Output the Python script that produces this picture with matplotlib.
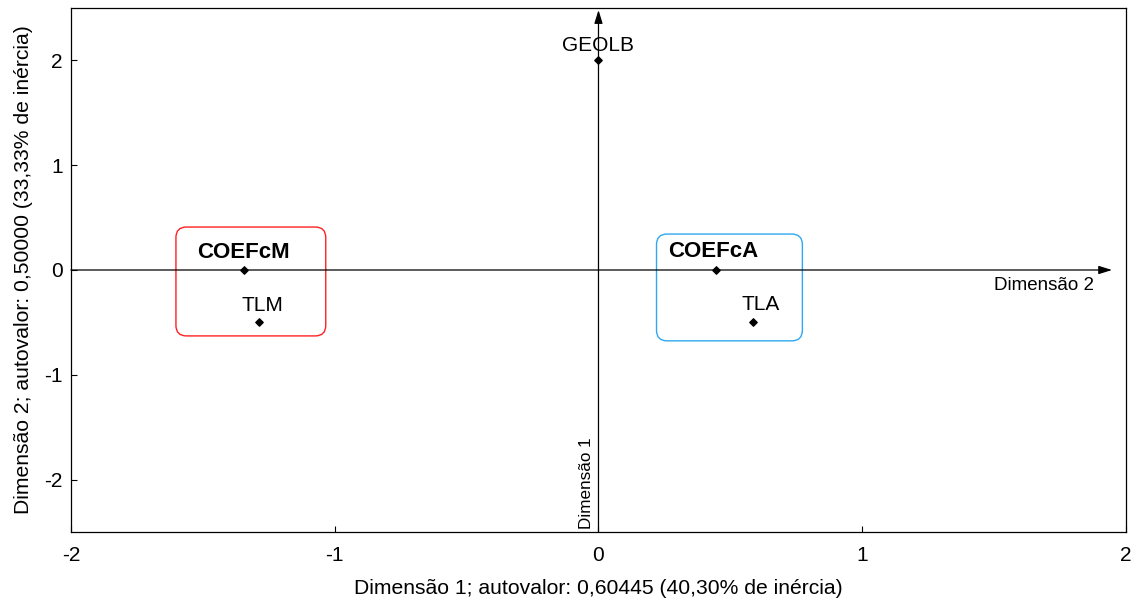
import matplotlib
matplotlib.use("Agg")
import matplotlib.pyplot as plt
from matplotlib.patches import FancyBboxPatch

plt.rcParams['font.family'] = ['Liberation Sans', 'DejaVu Sans']

labels = ["GEOLB", "COEFcM", "TLM", "COEFcA", "TLA"]
dim1 = [0.0, -1.345, -1.288, 0.447, 0.587]
dim2 = [2.0, 0.0, -0.5, 0.0, -0.5]
bold = [False, True, False, True, False]
label_dx = [0, 0, 4, -3, 7]   # pixel offsets of the labels
label_dy = [15, 17, 17, 18, 18]

# group frames: (x0, y0, x1, y1, colour)
groups = [(-1.602, -0.629, -1.034, 0.41, "#ff2020"),
          (0.220, -0.676, 0.773, 0.343, "#2ea8f0")]

fig = plt.figure(figsize=(11.39, 6.01), dpi=100)
ax = fig.add_axes([0.0623, 0.1148, 0.9263, 0.8719])
ax.set_xlim(-2, 2)
ax.set_ylim(-2.5, 2.5)
ax.set_xticks([-2, -1, 0, 1, 2])
ax.set_yticks([-2, -1, 0, 1, 2])
ax.tick_params(direction='in', length=4, labelsize=15, width=0.8)
ax.tick_params(axis='x', pad=10)
ax.tick_params(axis='y', pad=6)
ax.set_xticklabels(["-2", "-1", "0", "1", "2"])
ax.set_yticklabels(["-2", "-1", "0", "1", "2"])
for s in ax.spines.values():
    s.set_linewidth(0.9)

ax.set_xlabel("Dimensão 1; autovalor: 0,60445 (40,30% de inércia)", fontsize=15.2, labelpad=10)
ax.set_ylabel("Dimensão 2; autovalor: 0,50000 (33,33% de inércia)", fontsize=15.2, labelpad=8)

# axes through the origin with arrows
arrow = dict(arrowstyle="-|>,head_length=0.8,head_width=0.25", color="black", lw=0.9,
             shrinkA=0, shrinkB=0)
ax.annotate("", xy=(1.947, 0), xytext=(-2, 0), arrowprops=arrow)
ax.annotate("", xy=(0, 2.48), xytext=(0, -2.5), arrowprops=arrow)
ax.text(1.88, -0.07, "Dimensão 2", fontsize=13.5, ha='right', va='top')
ax.text(-0.018, -2.47, "Dimensão 1", fontsize=12.3, rotation=90, ha='right', va='bottom')

aspect = (0.9263 * 1139 / 4) / (0.8719 * 601 / 5)
for x0, y0, x1, y1, c in groups:
    ax.add_patch(FancyBboxPatch((x0, y0), x1 - x0, y1 - y0,
                                boxstyle="round,pad=0,rounding_size=0.04",
                                mutation_aspect=aspect, fc="none", ec=c, lw=1.0))

ax.scatter(dim1, dim2, marker='D', s=14, color='black', zorder=5)
for x, y, t, b, dx, dy in zip(dim1, dim2, labels, bold, label_dx, label_dy):
    ax.annotate(t, (x, y), xytext=(dx, dy), textcoords='offset pixels',
                ha='center', va='center', fontsize=16 if b else 15,
                fontweight='bold' if b else 'normal')

fig.savefig("out.png", dpi=100)
